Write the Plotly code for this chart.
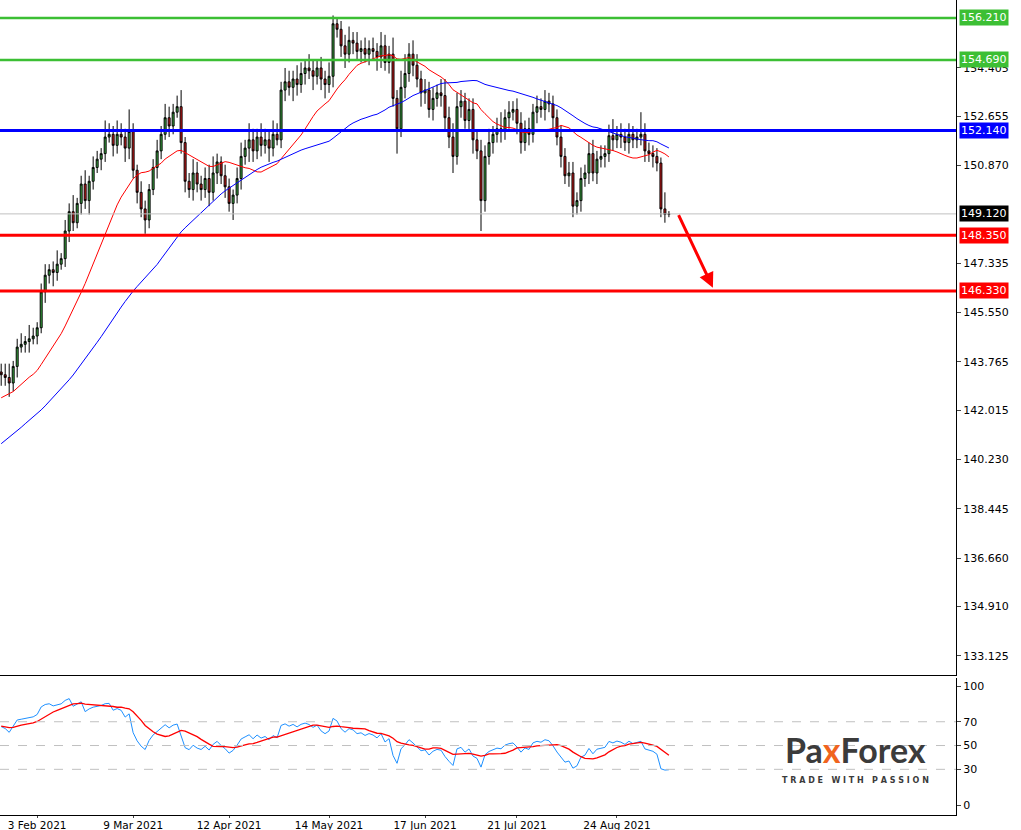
import plotly.graph_objects as go
import numpy as np

# ---- data ----
warmup_close = [137.2,137.5,137.8,137.4,137.9,138.3,138.0,138.6,139.0,138.8,
    139.2,139.6,139.3,139.8,140.1,139.7,140.0,140.4,140.2,139.9,
    140.3,140.6,140.1,140.5,140.9,141.2,140.8,141.3,141.6,141.1,
    141.0,141.4,141.8,142.1,141.7,141.5,141.9,142.3,142.6,142.2,
    142.0,142.4,142.8,143.1,142.7,142.5,142.9,143.2,143.5,143.4]

close = [143.3,143.2,143.0,143.6,144.3,144.4,144.5,144.6,144.7,145.0,
    146.3,146.9,147.1,147.0,147.3,147.5,148.5,149.2,148.8,149.5,
    150.2,149.6,150.3,150.8,151.1,151.3,151.9,152.0,151.6,152.0,
    151.9,151.5,152.1,150.7,149.9,149.3,148.9,150.0,150.8,151.4,
    152.0,152.6,152.3,152.8,153.0,151.7,150.3,150.0,150.6,150.2,
    150.0,150.4,149.9,150.6,151.0,150.5,150.1,149.5,149.8,150.4,
    151.2,151.5,151.8,151.4,151.9,151.6,151.8,151.5,152.0,151.8,
    153.6,153.9,153.7,154.0,153.8,154.2,154.4,154.3,154.1,154.4,
    154.0,153.8,154.1,156.0,155.8,155.2,154.9,155.4,155.3,155.0,
    155.1,154.9,155.1,155.0,154.8,155.2,154.6,154.9,153.3,152.2,
    153.7,154.2,154.9,154.5,154.0,153.5,153.6,152.9,153.3,153.5,
    153.4,152.6,151.9,151.2,153.0,153.2,152.5,152.9,151.8,151.4,
    149.6,151.2,151.7,152.0,152.2,152.1,152.6,152.8,152.9,152.4,
    151.7,152.2,152.0,152.8,153.0,152.9,153.2,153.1,152.6,151.9,
    151.2,150.5,150.6,149.4,149.6,150.4,150.6,151.3,150.6,151.1,
    151.2,151.3,151.95,151.8,152.0,151.9,151.7,152.0,151.8,151.9,
    152.0,151.4,151.3,151.2,150.96,149.3,149.1,149.12]

up_wick = [.3,.4,.5,.2,.3,.4,.2,.5,.3,.2, .3,.4,.2,.3,.5,.2,.4,.3,.6,.2,
    .3,.5,.2,.4,.3,.2,.6,.4,.3,.5, .4,.3,.8,.3,.2,.4,.3,.2,.3,.4,
    .3,.5,.4,.3,.4,.6,.2,.3,.5,.4, .3,.4,.5,.6,.3,.2,.4,.3,.2,.4,
    .5,.3,.6,.4,.3,.5,.4,.3,.5,.4, .3,.5,.4,.3,.5,.4,.3,.5,.4,.3,
    .4,.3,.5,.3,.2,.3,.4,.5,.3,.4, .3,.4,.3,.4,.3,.5,.4,.3,.6,.3,
    .6,.7,.4,.5,.4,.3,.4,.3,.4,.3, .5,.6,.4,.5,.5,.4,.3,.4,.4,.3,
    .4,.4,.5,.3,.4,.6,.3,.4,.3,.4, .4,.3,.4,.3,.4,.3,.4,.3,.3,.3,
    .4,.3,.4,.4,.3,.4,.3,.4,.5,.3, .4,.3,.4,.6,.3,.4,.3,.4,.3,.3,
    .8,.4,.3,.3,.3,.2,.6,.1]
dn_wick = [.4,.3,.5,.3,.4,.2,.3,.4,.2,.3, .2,.4,.3,.5,.3,.2,.3,.4,.3,.2,
    .4,.3,.5,.3,.2,.4,.3,.2,.4,.3, .3,.5,.4,.3,.4,.3,.5,.3,.2,.4,
    .3,.2,.4,.3,.2,.4,.4,.3,.4,.3, .4,.3,.5,.3,.4,.3,.4,.3,.6,.3,
    .4,.3,.5,.4,.3,.4,.3,.5,.3,.2, .3,.4,.3,.5,.4,.3,.4,.3,.5,.3,
    .4,.5,.3,.4,.3,.4,.5,.3,.4,.3, .4,.3,.4,.3,.5,.4,.3,.4,.3,.9,
    .3,.4,.3,.4,.3,.5,.4,.3,.4,.3, .4,.5,.4,.6,.3,.4,.3,.4,.5,.3,
    1.1,.4,.3,.4,.3,.4,.3,.4,.3,.4, .4,.3,.4,.3,.4,.3,.4,.3,.4,.3,
    .4,.3,.4,.4,.3,.4,.3,.4,.3,.4, .3,.4,.3,.4,.3,.4,.3,.4,.3,.3,
    .3,.4,.3,.4,.3,.3,.3,.1]

date_ticks = [9,33,57,82,106,129,154]
date_labels = ["3 Feb 2021","9 Mar 2021","12 Apr 2021","14 May 2021","17 Jun 2021","21 Jul 2021","24 Aug 2021"]
price_ticks = [154.405,152.655,150.870,147.335,145.550,143.765,142.015,140.230,138.445,136.660,134.910,133.125]
green_levels = [156.210,154.690]
blue_levels = [152.140]
red_levels = [148.350,146.330]
last_price = 149.120
rsi_levels = [30,50,70]
rsi_ticks = [0,30,50,70,100]

# ---- derived ----
allc = np.array(warmup_close + close)
n = len(close)
W = len(warmup_close)
opens = [warmup_close[-1]] + close[:-1]
highs = [max(o, c) + u for o, c, u in zip(opens, close, up_wick)]
lows = [min(o, c) - d for o, c, d in zip(opens, close, dn_wick)]
x = list(range(n))

def sma(a, p):
    return np.array([a[i-p+1:i+1].mean() for i in range(len(a))])
ma20 = sma(allc, 20)[W:]
ma50 = sma(allc, 50)[W:]

d = np.diff(allc)
g = np.where(d > 0, d, 0); l = np.where(d < 0, -d, 0)
p = 14
ag = g[:p].mean(); al = l[:p].mean()
rsi = [np.nan]*(p+1)
for i in range(p, len(d)):
    ag = (ag*(p-1)+g[i])/p; al = (al*(p-1)+l[i])/p
    rsi.append(100 - 100/(1+ag/al) if al > 0 else 100)
rsi = np.array(rsi[:len(allc)])
sig = np.array([np.nanmean(rsi[max(0,i-8):i+1]) for i in range(len(rsi))])
rsi_v = rsi[W:]; sig_v = sig[W:]

fig = go.Figure()
fig.add_trace(go.Candlestick(x=x, open=opens, high=highs, low=lows, close=close,
    increasing=dict(fillcolor="#3cb043", line=dict(color="black", width=1)),
    decreasing=dict(fillcolor="#d91a1a", line=dict(color="black", width=1)),
    whiskerwidth=0, xaxis="x", yaxis="y", showlegend=False, hoverinfo="skip"))
fig.add_trace(go.Scatter(x=x, y=ma20, mode="lines", line=dict(color="#ff0000", width=1), xaxis="x", yaxis="y", showlegend=False))
fig.add_trace(go.Scatter(x=x, y=ma50, mode="lines", line=dict(color="#0000ff", width=1), xaxis="x", yaxis="y", showlegend=False))
fig.add_trace(go.Scatter(x=x, y=rsi_v, mode="lines", line=dict(color="#1e90ff", width=1), xaxis="x2", yaxis="y2", showlegend=False))
fig.add_trace(go.Scatter(x=x, y=sig_v, mode="lines", line=dict(color="#ff0000", width=1.3), xaxis="x2", yaxis="y2", showlegend=False))

shapes = []
def hl(yv, color, w, yref="y", dash="solid"):
    shapes.append(dict(type="line", xref="paper", x0=0, x1=1, yref=yref, y0=yv, y1=yv,
                       line=dict(color=color, width=w, dash=dash), layer="above"))
hl(last_price, "#c0c0c0", 1)
for v in rsi_levels: hl(v, "#c0c0c0", 1, "y2", "dash")
for v in green_levels: hl(v, "#3cbf34", 2.5)
for v in blue_levels: hl(v, "#0000ff", 3)
for v in red_levels: hl(v, "#ff0000", 3)

ann = []
def box(yv, bg, fg="white"):
    ann.append(dict(xref="paper", x=1, xanchor="left", xshift=3, yref="y", y=yv, yanchor="middle",
                    text=f"{yv:.3f}", showarrow=False, bgcolor=bg, font=dict(color=fg, size=11, family="DejaVu Sans"),
                    borderpad=1))
for v in green_levels: box(v, "#3cbf34")
for v in blue_levels: box(v, "#0000ff")
for v in red_levels: box(v, "#ff0000")
box(last_price, "#000000")
# arrow
ann.append(dict(x=178, y=146.45, xref="x", yref="y", ax=-35, ay=-74, axref="pixel", ayref="pixel",
                showarrow=True, arrowhead=2, arrowsize=1, arrowwidth=3, arrowcolor="#ff0000", text=""))
# logo
ann.append(dict(xref="paper", yref="paper", x=0.895, y=0.08, xanchor="center", yanchor="middle", showarrow=False,
                text="<b><span style='color:#3b3b3b'>Pa</span><span style='color:#f0641e'>x</span><span style='color:#3b3b3b'>Forex</span></b>",
                font=dict(size=34, family="Lato")))
ann.append(dict(xref="paper", yref="paper", x=0.895, y=0.042, xanchor="center", yanchor="middle", showarrow=False,
                text="<b>T R A D E   W I T H   P A S S I O N</b>",
                font=dict(size=8, family="DejaVu Sans", color="#3b3b3b")))

tickfont = dict(size=11, family="DejaVu Sans", color="black")
fig.update_layout(
    width=1021, height=830, margin=dict(l=0, r=65, t=0, b=15, autoexpand=False),
    paper_bgcolor="white", plot_bgcolor="white",
    xaxis=dict(domain=[0,1], range=[-0.3, 238.8], anchor="y", showticklabels=False, showgrid=False,
               rangeslider=dict(visible=False), showline=True, linecolor="black", zeroline=False, automargin=False),
    yaxis=dict(domain=[0.172, 1], range=[132.44, 156.86], side="right", tickvals=price_ticks,
               ticktext=[f"{v:.3f}" for v in price_ticks], tickfont=tickfont, showgrid=False,
               showline=True, linecolor="black", ticks="outside", ticklen=4, zeroline=False, automargin=False),
    xaxis2=dict(domain=[0,1], range=[-0.3, 238.8], anchor="y2", tickvals=date_ticks, ticktext=date_labels,
                tickfont=dict(size=10.5, family="DejaVu Sans", color="black"), showgrid=False, showline=True,
                linecolor="black", ticks="outside", ticklen=2, ticklabelstandoff=-2, zeroline=False, automargin=False),
    yaxis2=dict(domain=[0, 0.168], range=[-8.4, 106.7], side="right", tickvals=rsi_ticks, tickfont=tickfont,
                showgrid=False, showline=True, linecolor="black", ticks="outside", ticklen=4, zeroline=False,
                automargin=False),
    shapes=shapes, annotations=ann,
)
fig.write_html("out.html", config={"displayModeBar": False},
               post_script="document.body.style.margin='0';document.body.style.overflow='hidden';")
